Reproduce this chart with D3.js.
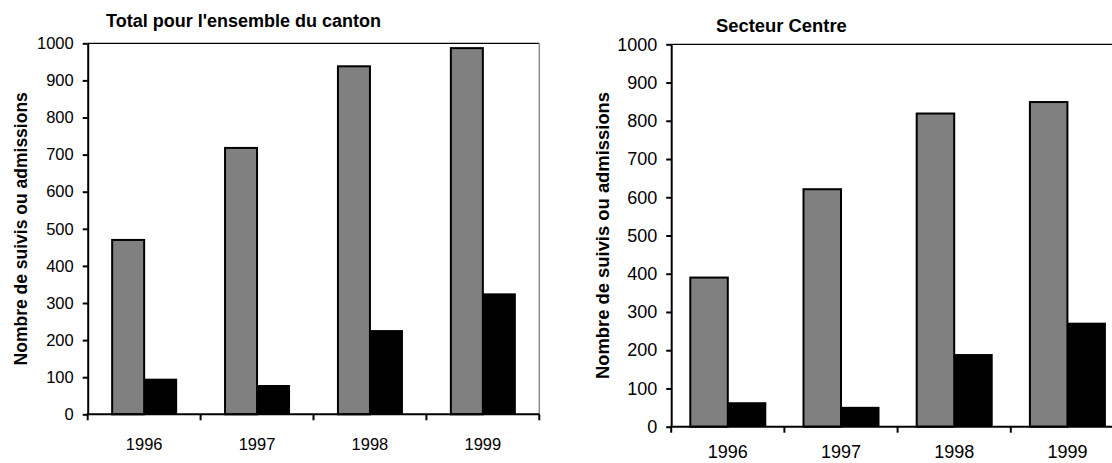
<!DOCTYPE html>
<html>
<head>
<meta charset="utf-8">
<script src="https://cdn.jsdelivr.net/npm/d3@7"></script>
<style>
  body { margin: 0; background: #fff; }
  svg text { font-family: "Liberation Sans", Arial, sans-serif; fill: #000; }
</style>
</head>
<body>
<div id="chart"></div>
<script>
// data
const years = ["1996", "1997", "1998", "1999"];
const yTicks = [0, 100, 200, 300, 400, 500, 600, 700, 800, 900, 1000];

const totalSuivis = [470, 718, 938, 987];
const totalAdmissions = [96, 79, 227, 326];

const centreSuivis = [390, 621, 819, 849];
const centreAdmissions = [64, 52, 190, 272];

const w = 1112;
const h = 463;

const svg = d3.select("#chart")
  .append("svg")
  .attr("width", w)
  .attr("height", h);

svg.append("rect").attr("width", w).attr("height", h).attr("fill", "#fff");

let drawPanel = (cfg, suivis, admissions) => {
  const g = svg.append("g");

  const x0 = d3.scaleBand()
    .domain(years)
    .range([cfg.left, cfg.right])
    .padding(0);

  const x1 = d3.scaleBand()
    .domain(["suivis", "admissions"])
    .range([x0.bandwidth() / 2 - cfg.barW, x0.bandwidth() / 2 + cfg.barW])
    .padding(0);

  const y = d3.scaleLinear()
    .domain([0, 1000])
    .range([cfg.bottom, cfg.top]);

  // frame: top line black, right edge grey
  g.append("line")
    .attr("x1", cfg.left).attr("x2", cfg.right)
    .attr("y1", cfg.top).attr("y2", cfg.top)
    .attr("stroke", "#000").attr("stroke-width", 1.3);
  g.append("line")
    .attr("x1", cfg.right).attr("x2", cfg.right)
    .attr("y1", cfg.top).attr("y2", cfg.bottom)
    .attr("stroke", "#8c8c8c").attr("stroke-width", 1.5);

  const rows = years.map((yr, i) => ({ year: yr, suivis: suivis[i], admissions: admissions[i] }));

  // grey bars (with dark outline)
  g.append("g")
    .selectAll("rect")
    .data(rows)
    .enter()
    .append("rect")
    .attr("x", d => x0(d.year) + x1("suivis") + 1)
    .attr("y", d => y(d.suivis))
    .attr("width", x1.bandwidth() - 1)
    .attr("height", d => y(0) - y(d.suivis))
    .attr("fill", "#808080")
    .attr("stroke", "#000")
    .attr("stroke-width", 2);

  // black bars
  g.append("g")
    .selectAll("rect")
    .data(rows)
    .enter()
    .append("rect")
    .attr("x", d => x0(d.year) + x1("admissions"))
    .attr("y", d => y(d.admissions))
    .attr("width", x1.bandwidth())
    .attr("height", d => y(0) - y(d.admissions))
    .attr("fill", "#000");

  // y axis
  const yAxis = d3.axisLeft(y)
    .tickValues(yTicks)
    .tickFormat(d3.format("d"))
    .tickSize(5)
    .tickSizeOuter(0)
    .tickPadding(9);

  const ya = g.append("g")
    .attr("transform", "translate(" + cfg.left + ",0)")
    .call(yAxis);
  ya.select(".domain").attr("stroke-width", 2);
  ya.selectAll(".tick line").attr("stroke-width", 2);
  ya.selectAll("text")
    .attr("font-size", cfg.tickFont);

  // x axis: labels at band centres, ticks at band edges
  const xAxis = d3.axisBottom(x0).tickSize(0).tickSizeOuter(0).tickPadding(cfg.xPad);
  const xa = g.append("g")
    .attr("transform", "translate(0," + cfg.bottom + ")")
    .call(xAxis);
  xa.select(".domain").remove();
  xa.selectAll("text")
    .attr("font-size", cfg.tickFont);

  g.append("line")
    .attr("x1", cfg.left - 1).attr("x2", cfg.right)
    .attr("y1", cfg.bottom).attr("y2", cfg.bottom)
    .attr("stroke", "#000").attr("stroke-width", 2);

  g.append("g")
    .selectAll("line")
    .data(d3.range(years.length + 1))
    .enter()
    .append("line")
    .attr("x1", i => cfg.left + i * x0.step())
    .attr("x2", i => cfg.left + i * x0.step())
    .attr("y1", cfg.bottom)
    .attr("y2", cfg.bottom + 6)
    .attr("stroke", "#000")
    .attr("stroke-width", 2);

  // title
  g.append("text")
    .attr("x", cfg.titleX)
    .attr("y", cfg.titleY)
    .attr("font-size", cfg.titleFont)
    .attr("font-weight", "bold")
    .text(cfg.title);

  // y label
  g.append("text")
    .attr("transform", "translate(" + cfg.yLabX + "," + (cfg.top + cfg.bottom) / 2 + ") rotate(-90)")
    .attr("text-anchor", "middle")
    .attr("font-size", cfg.yLabFont)
    .attr("font-weight", "bold")
    .text("Nombre de suivis ou admissions");
};

drawPanel({
  left: 87.7, right: 539.3, top: 43.3, bottom: 414.3,
  barW: 33, tickFont: 16.5, xPad: 24,
  title: "Total pour l'ensemble du canton", titleX: 106, titleY: 27.3, titleFont: 18,
  yLabX: 26.8, yLabFont: 17.5
}, totalSuivis, totalAdmissions);

drawPanel({
  left: 671.2, right: 1124, top: 44.3, bottom: 426.7,
  barW: 38.5, tickFont: 18, xPad: 18.5,
  title: "Secteur Centre", titleX: 716, titleY: 32.3, titleFont: 18.4,
  yLabX: 609, yLabFont: 18.4
}, centreSuivis, centreAdmissions);
</script>
</body>
</html>
